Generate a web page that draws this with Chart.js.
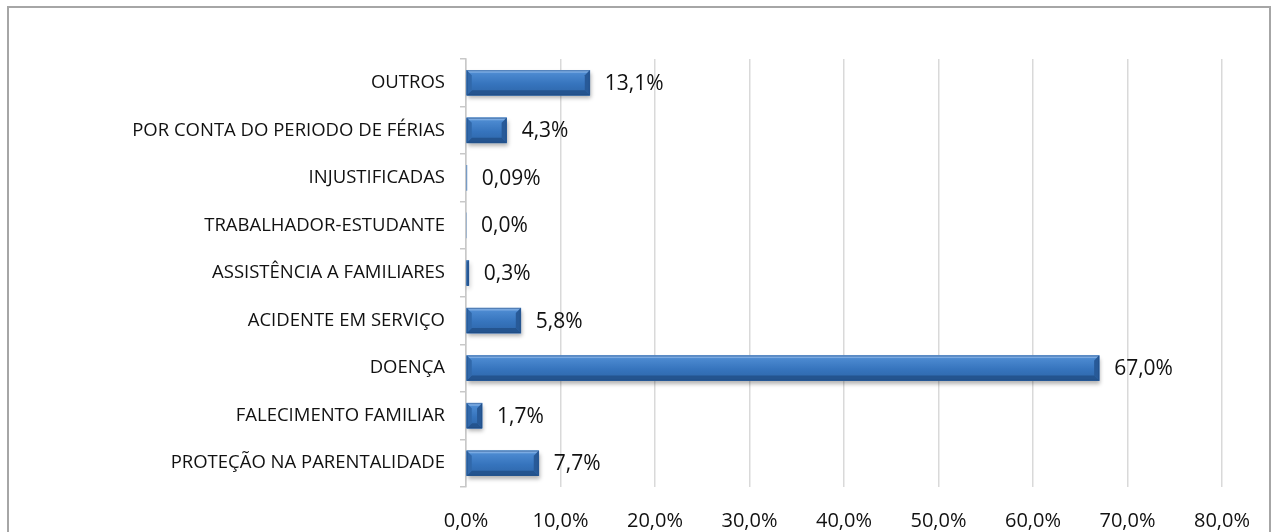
<!DOCTYPE html>
<html>
<head>
<meta charset="utf-8">
<script src="https://cdn.jsdelivr.net/npm/chart.js@4.4.1/dist/chart.umd.min.js"></script>
<style>
  html, body { margin: 0; padding: 0; background: #fff; overflow: hidden; }
  #wrap { position: relative; width: 1272px; height: 532px; }
  #frame { position: absolute; left: 7px; top: 6px; width: 1264px; height: 600px; border: 2px solid #a6a6a6; pointer-events: none; box-sizing: border-box; }
  canvas { position: absolute; left: 0; top: 0; }
</style>
</head>
<body>
<div id="wrap">
  <canvas id="c" width="1272" height="532"></canvas>
  <div id="frame"></div>
</div>
<script>
const categories = [
  "OUTROS",
  "POR CONTA DO PERIODO DE FÉRIAS",
  "INJUSTIFICADAS",
  "TRABALHADOR-ESTUDANTE",
  "ASSISTÊNCIA A FAMILIARES",
  "ACIDENTE EM SERVIÇO",
  "DOENÇA",
  "FALECIMENTO FAMILIAR",
  "PROTEÇÃO NA PARENTALIDADE"
];
const values = [13.1, 4.3, 0.09, 0.0, 0.3, 5.8, 67.0, 1.7, 7.7];
const valueDecimals = [1, 1, 2, 1, 1, 1, 1, 1, 1];
const xTicks = [0, 10, 20, 30, 40, 50, 60, 70, 80];

function pct(v, d) { return v.toFixed(d).replace('.', ',') + '%'; }

const bevelPlugin = {
  id: 'bevel',
  beforeDatasetDraw(chart, args) {
    const ctx = chart.ctx;
    const meta = args.meta;
    ctx.save();
    meta.data.forEach(el => {
      const p = el.getProps(['x', 'y', 'base', 'height'], true);
      const x0 = Math.min(p.base, p.x), x1 = Math.max(p.base, p.x);
      if (x1 - x0 < 1.5) return;
      const yt = p.y - p.height / 2;
      ctx.shadowColor = 'rgba(0,0,0,0.3)';
      ctx.shadowBlur = 4;
      ctx.shadowOffsetX = 1;
      ctx.shadowOffsetY = 3;
      ctx.fillStyle = '#2a5f9f';
      ctx.fillRect(x0, yt, x1 - x0, p.height);
    });
    ctx.restore();
  },
  afterDatasetDraw(chart, args) {
    const ctx = chart.ctx;
    const meta = args.meta;
    ctx.save();
    meta.data.forEach(el => {
      const p = el.getProps(['x', 'y', 'base', 'height'], true);
      const x0 = Math.min(p.base, p.x), x1 = Math.max(p.base, p.x);
      const w = x1 - x0;
      if (w < 1.5) return;
      const yt = p.y - p.height / 2, yb = p.y + p.height / 2;
      const g = ctx.createLinearGradient(0, yt, 0, yb);
      g.addColorStop(0, '#5d96d8');
      g.addColorStop(0.15, '#4a88cf');
      g.addColorStop(0.55, '#3674bd');
      g.addColorStop(1, '#2d65a8');
      ctx.fillStyle = g;
      ctx.fillRect(x0, yt, w, p.height);
      const b = Math.min(5, w / 2, p.height / 2);
      const poly = (pts, col) => {
        ctx.beginPath();
        ctx.moveTo(pts[0][0], pts[0][1]);
        for (let i = 1; i < pts.length; i++) ctx.lineTo(pts[i][0], pts[i][1]);
        ctx.closePath();
        ctx.fillStyle = col;
        ctx.fill();
      };
      const bt = Math.min(2.5, b);
      poly([[x0, yt], [x1, yt], [x1 - bt, yt + bt], [x0 + bt, yt + bt]], '#7aaae2');
      poly([[x0, yb], [x1, yb], [x1 - b, yb - b], [x0 + b, yb - b]], '#24548f');
      poly([[x0, yt], [x0 + b, yt + b], [x0 + b, yb - b], [x0, yb]], '#3168aa');
      poly([[x1, yt], [x1 - b, yt + b], [x1 - b, yb - b], [x1, yb]], '#285a98');
      ctx.strokeStyle = 'rgba(30,70,125,0.45)';
      ctx.lineWidth = 1;
      ctx.strokeRect(x0 + 0.5, yt + 0.5, Math.max(w - 1, 0), p.height - 1);
    });
    ctx.restore();
  },
  afterDatasetsDraw(chart) {
    const ctx = chart.ctx;
    const meta = chart.getDatasetMeta(0);
    ctx.save();
    ctx.font = '21px "Open Sans"';
    ctx.fillStyle = '#111';
    ctx.textAlign = 'left';
    ctx.textBaseline = 'middle';
    meta.data.forEach((el, i) => {
      const p = el.getProps(['x', 'y'], true);
      ctx.fillText(pct(values[i], valueDecimals[i]), p.x + 15, p.y + 1);
    });
    ctx.restore();
  }
};

new Chart(document.getElementById('c'), {
  type: 'bar',
  data: {
    labels: categories,
    datasets: [{
      data: values,
      backgroundColor: '#3370b9',
      borderWidth: 0,
      barThickness: 25
    }]
  },
  options: {
    indexAxis: 'y',
    responsive: false,
    animation: false,
    layout: { padding: { top: 59, right: 46, bottom: 0, left: 0 } },
    plugins: { legend: { display: false }, tooltip: { enabled: false } },
    scales: {
      x: {
        min: 0, max: 80,
        afterBuildTicks(scale) { scale.ticks = xTicks.map(v => ({ value: v })); },
        afterFit(scale) { scale.height = 45; },
        grid: { color: '#d9d9d9', lineWidth: 1.5, drawTicks: false },
        border: { display: false },
        ticks: {
          padding: 22,
          color: '#111',
          font: { family: 'Open Sans', size: 20 },
          callback: v => pct(v, 1)
        }
      },
      y: {
        afterFit(scale) { scale.width = 466; },
        grid: { offset: true, drawOnChartArea: false, tickLength: 6, color: '#c8c8c8', lineWidth: 1.5 },
        border: { color: '#c8c8c8', width: 1.5 },
        ticks: {
          padding: 15,
          color: '#111',
          font: { family: 'Open Sans', size: 18.5 }
        }
      }
    }
  },
  plugins: [bevelPlugin]
});
</script>
</body>
</html>
